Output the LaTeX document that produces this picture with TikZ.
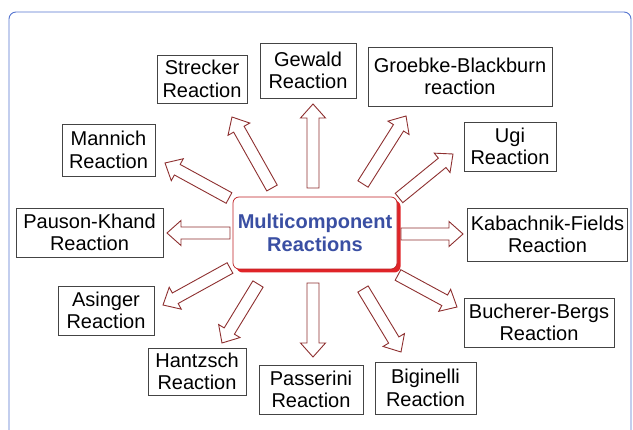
\documentclass[tikz,border=0pt]{standalone}
\usepackage{fontspec}
\setmainfont{Liberation Sans}
\usepackage{tikz}
\usetikzlibrary{calc,shadows}

\definecolor{frameblue}{HTML}{5574CF}
\definecolor{titleblue}{HTML}{3A4FA3}
\definecolor{arrowred}{HTML}{8E3030}
\definecolor{mcrred}{HTML}{E02428}
\definecolor{boxgray}{HTML}{444444}

\tikzset{
  rxnbox/.style={draw=boxgray, line width=0.9pt, fill=white, align=center,
    font=\fontsize{20}{22.5}\selectfont, inner sep=3pt},
  mcrbox/.style={draw=mcrred!85!black, line width=0.7pt, fill=white, rounded corners=6pt,
    align=center, text=titleblue, font=\bfseries\fontsize{20}{23}\selectfont,
    minimum width=164pt, minimum height=72pt,
    drop shadow={fill=mcrred, shadow xshift=3.5pt, shadow yshift=-3.5pt, opacity=1}},
  mcrarrow/.style={draw=arrowred, line width=0.9pt, fill=white, line join=miter}
}

\newcommand{\hollowarrow}[2]{
  \coordinate (hb) at ($(#2)!14pt!(#1)$);
  \draw[mcrarrow] ($(#1)!6pt!90:(#2)$) -- ($(hb)!6pt!90:(#2)$)
    -- ($(hb)!12.5pt!90:(#2)$) -- (#2) -- ($(hb)!12.5pt!-90:(#2)$)
    -- ($(hb)!6pt!-90:(#2)$) -- ($(#1)!6pt!-90:(#2)$) -- cycle;
}

\begin{document}
\begin{tikzpicture}[x=1pt, y=-1pt]
      \useasboundingbox (0, 0) rectangle (633, 430);
      \draw[frameblue, line width=0.9pt, rounded corners=7pt]
        (9, 440) -- (9, 12) -- (631, 12) -- (631, 440);
      % reaction boxes
      \foreach \nm/\x/\y/\w/\h/\txt in {
          strecker/202/79/90/48/{Strecker\\Reaction},
          gewald/308/70.5/96/55/{Gewald\\Reaction},
          groebke/460/76.5/184/59/{Groebke-Blackburn\\reaction},
          ugi/510/146.5/92/49/{Ugi\\Reaction},
          mannich/108.5/150/93/52/{Mannich\\Reaction},
          pauson/89.5/232.5/147/49/{Pauson-Khand\\Reaction},
          kabachnik/547.5/234.5/157/53/{Kabachnik-Fields\\Reaction},
          asinger/106/310.5/96/49/{Asinger\\Reaction},
          bucherer/539/322.5/150/49/{Bucherer-Bergs\\Reaction},
          hantzsch/197/371.5/98/47/{Hantzsch\\Reaction},
          passerini/311/389.5/104/49/{Passerini\\Reaction},
          biginelli/425.5/388/101/52/{Biginelli\\Reaction}} {
        \node[rxnbox, minimum width=\w pt, minimum height=\h pt] (\nm) at (\x, \y) {\txt};
      }
      \node[mcrbox] (mcr) at (315, 233) {Multicomponent\\Reactions};
      % hollow arrows
      \foreach \sx/\sy/\ex/\ey [count=\i] in {
          272/188/232/117, 313/188/313/104, 363/184/406/116, 399/198/453/154,
          229/198/165/163, 230/233/167/233, 401/234/463/234, 398/275/457/307,
          363/289/401/352, 313/283/313/357, 258/284/222/343, 230/268/163/305} {
        \coordinate (s\i) at (\sx, \sy);
        \coordinate (e\i) at (\ex, \ey);
        \hollowarrow{s\i}{e\i}
      }
    \end{tikzpicture}
\end{document}
